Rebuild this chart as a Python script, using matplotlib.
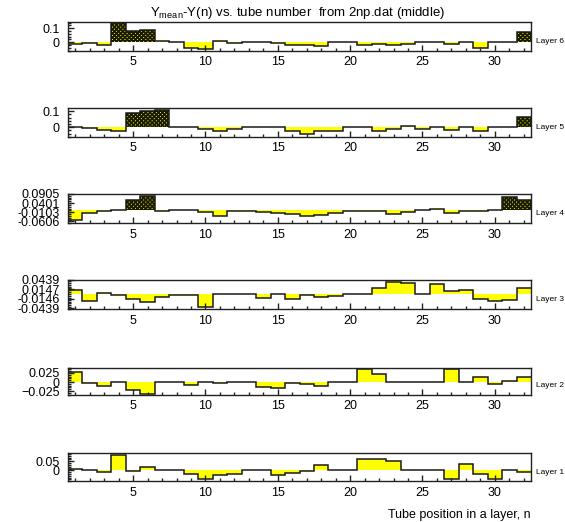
import matplotlib
matplotlib.use("Agg")
import matplotlib.pyplot as plt
import numpy as np

plt.rcParams['font.family'] = ['Liberation Sans', 'DejaVu Sans']
plt.rcParams['mathtext.fontset'] = 'custom'
plt.rcParams['mathtext.rm'] = 'Liberation Sans'
plt.rcParams['hatch.linewidth'] = 1.3

tubes = np.arange(1, 33)

# Y_mean - Y(n) per tube, one list per layer
layer1 = [0.009, 0.0, -0.009, 0.085, -0.005, 0.016, 0.0, 0.0, -0.019, -0.050,
          -0.028, -0.021, 0.0, 0.0, -0.023, -0.017, -0.003, 0.031, 0.0, 0.0,
          0.062, 0.064, 0.054, 0.0, 0.0, 0.0, -0.050, 0.033, -0.021, -0.050,
          0.0, -0.008]
layer2 = [0.027, -0.004, -0.010, 0.001, -0.023, -0.032, 0.0, 0.0, -0.008, 0.0,
          -0.002, 0.0, 0.0, -0.015, -0.017, -0.003, -0.006, -0.010, 0.0, 0.0,
          0.035, 0.021, 0.0, 0.0, 0.0, 0.0, 0.037, 0.0, 0.014, -0.006,
          0.004, 0.013]
layer3 = [0.012, -0.021, 0.003, -0.002, -0.015, -0.024, -0.009, -0.002, -0.002, -0.042,
          -0.001, -0.001, -0.001, -0.013, -0.001, -0.015, -0.002, -0.009, -0.006, -0.001,
          -0.001, 0.020, 0.038, 0.035, -0.001, 0.030, 0.010, 0.013, -0.015, -0.021,
          -0.019, 0.019]
layer4 = [-0.055, -0.015, -0.005, 0.002, 0.057, 0.082, -0.003, 0.0, 0.0, -0.009,
          -0.033, -0.003, -0.003, -0.010, -0.012, -0.017, -0.029, -0.026, -0.015, -0.002,
          -0.002, -0.002, -0.017, -0.007, 0.0, 0.007, -0.014, -0.005, -0.003, 0.003,
          0.076, 0.058]
layer5 = [-0.002, -0.004, -0.021, -0.023, 0.091, 0.101, 0.107, 0.0, 0.0, -0.010,
          -0.023, -0.012, 0.002, 0.002, -0.002, -0.025, -0.043, -0.027, -0.025, 0.002,
          0.002, -0.027, -0.012, 0.006, -0.013, 0.002, -0.015, 0.0, -0.025, 0.0,
          0.002, 0.061]
layer6 = [-0.015, -0.007, -0.021, 0.134, 0.080, 0.087, 0.007, 0.0, -0.038, -0.047,
          0.012, -0.005, 0.002, 0.002, -0.007, -0.021, -0.023, -0.026, 0.0, 0.0,
          -0.019, -0.014, -0.021, -0.012, 0.005, 0.002, -0.012, 0.002, -0.042, 0.002,
          0.005, 0.072]

# tubes drawn with the dark pattern
dark1 = []
dark2 = []
dark3 = []
dark4 = [5, 6, 31, 32]
dark5 = [5, 6, 7, 32]
dark6 = [4, 5, 6, 32]

layers = [
    # name, values, dark tubes, ylim, ticks, tick labels, minor step
    ("Layer 6", layer6, dark6, (-0.047, 0.144), [0, 0.1], ["0", "0.1"], 0.02),
    ("Layer 5", layer5, dark5, (-0.047, 0.120), [0, 0.1], ["0", "0.1"], 0.02),
    ("Layer 4", layer4, dark4, (-0.0606, 0.0905),
     [-0.0606, -0.0103, 0.0401, 0.0905], ["-0.0606", "-0.0103", "0.0401", "0.0905"], 0.0101),
    ("Layer 3", layer3, dark3, (-0.0439, 0.0439),
     [-0.0439, -0.0146, 0.0147, 0.0439], ["-0.0439", "-0.0146", "0.0147", "0.0439"], 0.00586),
    ("Layer 2", layer2, dark2, (-0.0335, 0.040), [-0.025, 0, 0.025],
     ["\u22120.025", "0", "0.025"], 0.005),
    ("Layer 1", layer1, dark1, (-0.052, 0.094), [0, 0.05], ["0", "0.05"], 0.01),
]

W, H = 565, 522
fig = plt.figure(figsize=(W / 100, H / 100), dpi=100)

x0, x1 = 68, 531
tops = [22, 108, 194, 280, 367.5, 453.3]
bots = [50.7, 136.7, 223.3, 309, 394.7, 481.3]
edges = np.arange(0.5, 33.5, 1.0)

for (name, vals, dark, ylim, yt, ytl, minor), top, bot in zip(layers, tops, bots):
    ax = fig.add_axes([x0 / W, 1 - bot / H, (x1 - x0) / W, (bot - top) / H])
    vals = np.array(vals)
    ax.stairs(vals, edges, baseline=0, fill=True, color='#ffff00', lw=0)
    dv = np.array([v if t in dark else 0.0 for t, v in zip(tubes, vals)])
    mask = dv != 0
    ax.bar(tubes[mask], dv[mask], width=1.0, color='#ffff00', edgecolor='#1a1a00',
           hatch='x' * 8, linewidth=0)
    ax.stairs(vals, edges, baseline=None, color='#1a1a1a', lw=1.1)

    ax.set_xlim(0.5, 32.5)
    ax.set_ylim(*ylim)
    ax.set_xticks([5, 10, 15, 20, 25, 30])
    ax.set_xticks(tubes, minor=True)
    ax.set_yticks(yt)
    ax.set_yticklabels(ytl)
    ax.set_yticks(np.arange(ylim[0] - (ylim[0] % minor), ylim[1], minor), minor=True)
    ax.tick_params(axis='both', which='both', direction='in', top=False, right=False,
                   labelsize=9, width=1.0, color='#222222')
    ax.tick_params(axis='x', which='major', length=4.5, pad=4)
    ax.tick_params(axis='x', which='minor', length=2.3)
    ax.tick_params(axis='y', which='major', length=4, pad=6)
    ax.tick_params(axis='y', which='minor', length=2)
    for s in ax.spines.values():
        s.set_linewidth(1.0)
        s.set_color('#222222')
    fig.text(536 / W, 1 - (top + 0.68 * (bot - top)) / H, name, fontsize=6,
             ha='left', va='center')

fig.text(298 / W, 1 - 13 / H, r"Y$_{\rm mean}$-Y(n) vs. tube number  from 2np.dat (middle)",
         fontsize=9.5, ha='center', va='center')
fig.text(531 / W, 1 - 515 / H, "Tube position in a layer, n", fontsize=9,
         ha='right', va='center')

fig.savefig("out.png", dpi=100)
